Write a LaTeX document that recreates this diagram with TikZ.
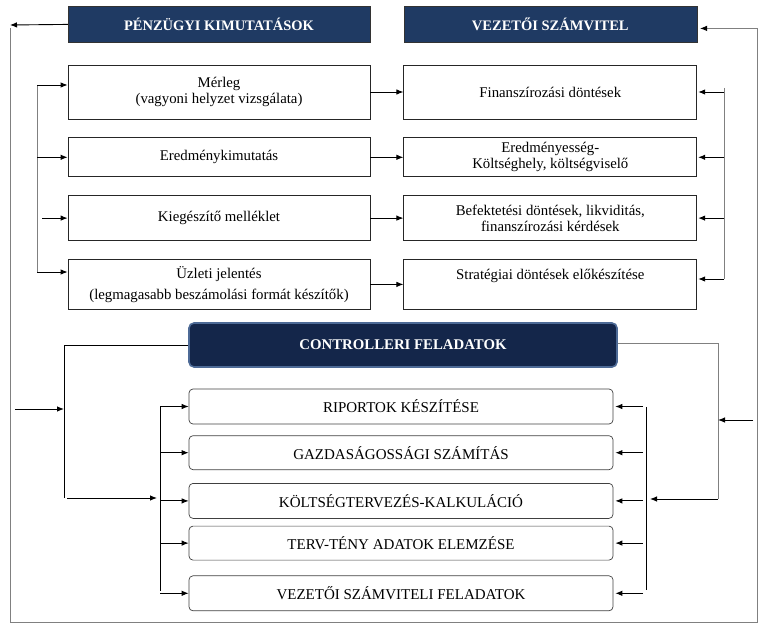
\documentclass[tikz,border=0pt]{standalone}
\usepackage{fontspec}
\setmainfont{Liberation Serif}
\usetikzlibrary{positioning,arrows.meta}

\definecolor{navy}{HTML}{1F3A63}
\definecolor{ctrlfill}{HTML}{14264A}
\definecolor{ctrlline}{HTML}{4D6A96}

\begin{document}
\begin{tikzpicture}[x=1pt,y=-1pt]
	  		\tikzstyle{head}=[rectangle, draw=black!80, fill=navy, text=white, font=\fontsize{14.5}{16}\selectfont\bfseries, inner sep=0pt, minimum height=36pt]
	  		\tikzstyle{box}=[rectangle, draw=black!85, line width=0.8pt, align=center, inner sep=0pt, font=\fontsize{14.8}{16}\selectfont]
	  		\tikzstyle{task}=[rectangle, rounded corners=4pt, draw=black!75, line width=0.7pt, inner sep=0pt, minimum width=424pt, font=\fontsize{15}{16}\selectfont]
	  		\tikzstyle{connect}=[-{Latex[length=7pt,width=5.5pt]}, line width=0.9pt]
	  		\tikzstyle{gline}=[draw=black!50, line width=0.9pt]
	  		\tikzstyle{gconnect}=[-{Latex[length=7pt,width=5.5pt,color=black]}, draw=black!50, line width=0.9pt]
	  		\useasboundingbox (0,0) rectangle (765,631);
	  		% first column
	  		\node[box, minimum width=302pt, minimum height=54pt] (merleg) at (219,92) {M\'erleg\\(vagyoni helyzet vizsg\'alata)};
	  		\node[box, minimum width=302pt, minimum height=39pt] (eredm) [below=18pt of merleg] {Eredm\'enykimutat\'as};
	  		\node[box, minimum width=302pt, minimum height=45pt] (kieg) [below=18pt of eredm] {Kieg\'esz\'it\H{o} mell\'eklet};
	  		\node[box, minimum width=302pt, minimum height=50pt] (uzleti) [below=18pt of kieg] {\"Uzleti jelent\'es\\[5pt](legmagasabb besz\'amol\'asi form\'at k\'esz\'it\H{o}k)};
	  		% second column
	  		\node[box, minimum width=293pt, minimum height=54pt] (finansz) [right=33pt of merleg] {Finansz\'iroz\'asi d\"ont\'esek};
	  		\node[box, minimum width=293pt, minimum height=39pt] (eredmenyes) [right=33pt of eredm] {Eredm\'enyess\'eg-\\K\"olts\'eghely, k\"olts\'egvisel\H{o}};
	  		\node[box, minimum width=293pt, minimum height=45pt] (befekt) [right=33pt of kieg] {Befektet\'esi d\"ont\'esek, likvidit\'as,\\finansz\'iroz\'asi k\'erd\'esek};
	  		\node[box, minimum width=293pt, minimum height=50pt] (strat) [right=33pt of uzleti] {Strat\'egiai d\"ont\'esek el\H{o}k\'esz\'it\'ese\\[4pt]\mbox{}};
	  		\node[head, minimum width=302pt] (penz) [above=22pt of merleg] {P\'ENZ\"UGYI KIMUTAT\'ASOK};
	  		\node[head, minimum width=293pt] (vez) [above=22pt of finansz] {VEZET\H{O}I SZ\'AMVITEL};
	  		% controlling
	  		\node[rectangle, rounded corners=5pt, draw=ctrlline, line width=1.6pt, fill=ctrlfill, text=white, minimum width=428pt, minimum height=44pt, font=\fontsize{14.8}{16}\selectfont\bfseries] (ctrl) at (403,345) {CONTROLLERI FELADATOK};
	  		\node[task, minimum height=35pt] (riport) at (401,406.5) {RIPORTOK K\'ESZ\'IT\'ESE};
	  		\node[task, minimum height=34pt] (gazd) [below=11pt of riport] {GAZDAS\'AGOSS\'AGI SZ\'AM\'IT\'AS};
	  		\node[task, minimum height=35pt] (koltseg) [below=13pt of gazd] {K\"OLTS\'EGTERVEZ\'ES-KALKUL\'ACI\'O};
	  		\node[task, minimum height=34pt] (terv) [below=7pt of koltseg] {TERV-T\'ENY ADATOK ELEMZ\'ESE};
	  		\node[task, minimum height=35pt] (vezfel) [below=15pt of terv] {VEZET\H{O}I SZ\'AMVITELI FELADATOK};
	  		% corners of the connectors
	  		\coordinate (outl) at (10,25);
	  		\coordinate (outr) at (757,622);
	  		\coordinate (lt) at (37,85);
	  		\coordinate (lb) at (37,272);
	  		\coordinate (rt) at (724,88);
	  		\coordinate (rb) at (724,279);
	  		\coordinate (cl) at (64,498);
	  		\coordinate (ca) at (64,409);
	  		\coordinate (bt) at (160,407);
	  		\coordinate (bb) at (160,591);
	  		\coordinate (cr) at (718,499);
	  		\coordinate (cb) at (718,420);
	  		\coordinate (dt) at (646,407);
	  		\coordinate (db) at (646,590);
	  		% outer loop
	  		\draw[connect] (penz.west) -- (outl);
	  		\draw[gconnect, shorten >=3pt] ([yshift=-3pt]outl) |- (outr) |- ([yshift=-4pt]vez.east);
	  		% statements
	  		\draw[gline] (lt) -- (lb);
	  		\draw[connect] (lt) -- (lt -| merleg.west);
	  		\draw[connect] (lt |- eredm.west) -- (eredm.west);
	  		\draw[connect] ([xshift=5pt]lt |- kieg.west) -- (kieg.west);
	  		\draw[connect] (lb) -- (lb -| uzleti.west);
	  		\path
	  		(merleg) edge [connect] (finansz)
	  		(eredm) edge [connect] (eredmenyes)
	  		(kieg) edge [connect] (befekt)
	  		(uzleti) edge [connect] (strat);
	  		\draw[gline] (rt) -- (rb);
	  		\draw[connect, shorten >=1pt] (rt |- finansz.east) -- (finansz.east);
	  		\draw[connect, shorten >=1pt] (rt |- eredmenyes.east) -- (eredmenyes.east);
	  		\draw[connect, shorten >=1pt] (rt |- befekt.east) -- (befekt.east);
	  		\draw[connect, shorten >=1pt] (rb) -- (rb -| strat.east);
	  		% controlling tasks
	  		\draw[line width=0.9pt] (ctrl.west) -| (cl);
	  		\draw[connect, shorten <=5pt] (ca -| outl) -- (ca);
	  		\draw[connect, shorten <=3pt, shorten >=3pt] (cl) -- (cl -| bt);
	  		\draw[line width=0.9pt] (bt) -- (bb);
	  		\foreach \t in {riport, gazd, koltseg, terv, vezfel}
	  			\draw[connect] (bt |- \t.west) -- (\t.west);
	  		\draw[gline] ([yshift=2pt]ctrl.east) -| (cr);
	  		\draw[connect, shorten <=4pt] (cb -| outr) -- (cb);
	  		\draw[connect, shorten >=4pt] (cr) -- (cr -| dt);
	  		\draw[line width=0.9pt] (dt) -- (db);
	  		\foreach \t in {riport, gazd, koltseg, terv, vezfel}
	  			\draw[connect, shorten <=3pt, shorten >=2pt] (dt |- \t.east) -- (\t.east);
	  		\end{tikzpicture}
\end{document}
